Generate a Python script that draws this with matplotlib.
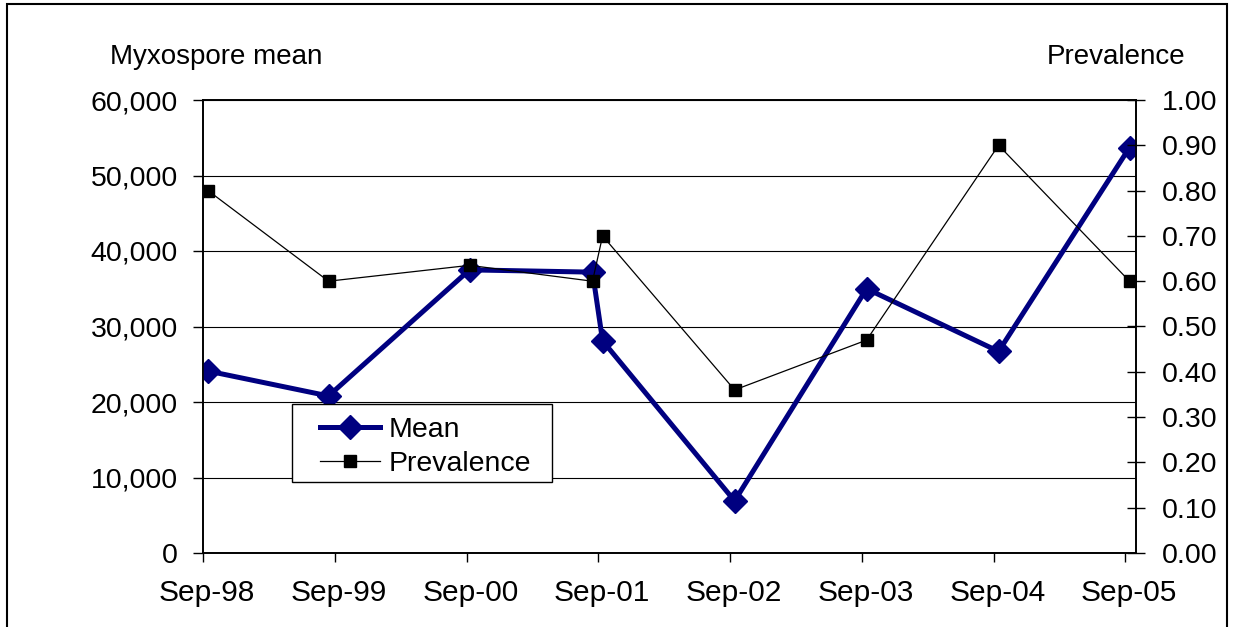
import matplotlib
matplotlib.use("Agg")
import matplotlib.pyplot as plt
import matplotlib.dates as mdates
import matplotlib.transforms as mtransforms
from matplotlib.patches import Rectangle
from matplotlib.ticker import FuncFormatter, MultipleLocator
from datetime import datetime

plt.rcParams['font.family'] = ['Liberation Sans', 'DejaVu Sans']

# sampling dates and values
dates = ['1998-09-15', '1999-08-15', '2000-09-09', '2001-08-16', '2001-09-13',
         '2002-09-14', '2003-09-15', '2004-09-15', '2005-09-13']
mean = [24100, 20800, 37500, 37200, 28100, 6900, 35000, 26700, 53700]
prevalence = [0.80, 0.60, 0.635, 0.60, 0.70, 0.36, 0.47, 0.90, 0.60]
tick_years = [1998, 1999, 2000, 2001, 2002, 2003, 2004, 2005]

x = [datetime.strptime(d, '%Y-%m-%d') for d in dates]

W, H = 1233, 627
fig = plt.figure(figsize=(W / 100, H / 100), dpi=100)
ax = fig.add_axes([203/W, 1 - 553/H, 933/W, 453/H])
ax2 = ax.twinx()

ax.set_xlim(datetime(1998, 9, 1), datetime(2005, 10, 1))
ax.set_ylim(0, 60000)
ax2.set_ylim(0, 1.0)

ax.yaxis.set_major_locator(MultipleLocator(10000))
ax.yaxis.set_major_formatter(FuncFormatter(lambda v, p: f'{int(v):,}'))
ax2.yaxis.set_major_locator(MultipleLocator(0.1))
ax2.yaxis.set_major_formatter(FuncFormatter(lambda v, p: f'{v:.2f}'))
ax.set_xticks([datetime(y, 9, 1) for y in tick_years])
ax.xaxis.set_major_formatter(mdates.DateFormatter('Sep-%y'))

ax.grid(axis='y', color='black', linewidth=0.8)
ax.set_axisbelow(True)

ax.tick_params(axis='y', direction='out', length=7, width=1, pad=11, labelsize=20.5)
ax.tick_params(axis='x', direction='out', length=6.5, width=1, pad=12, labelsize=21.5)
ax2.tick_params(axis='y', direction='inout', length=13, width=1, pad=12, labelsize=20.5)

# month labels sit a little right of their ticks
shift = mtransforms.ScaledTranslation(4/100, 0, fig.dpi_scale_trans)
for lab in ax.get_xticklabels():
    lab.set_transform(lab.get_transform() + shift)

for a in (ax, ax2):
    for s in a.spines.values():
        s.set_color('black')
        s.set_linewidth(1.2)

mline, = ax.plot(x, mean, color='#000080', linewidth=3.6, marker='D',
                 markersize=12, label='Mean', zorder=3)
pline, = ax2.plot(x, prevalence, color='black', linewidth=0.9, marker='s',
                  markersize=8.5, label='Prevalence', zorder=4)

# legend box drawn separately so the inner padding can be wider on the left
ax2.add_patch(Rectangle((89/933, 71/453), 260/933, 78/453, transform=ax2.transAxes,
                        facecolor='white', edgecolor='black', linewidth=1, zorder=5))
leg = ax2.legend([mline, pline], ['Mean', 'Prevalence'], loc='lower left',
                 bbox_to_anchor=(117/933, 76/453), borderaxespad=0, borderpad=0,
                 fontsize=20.5, frameon=False, handlelength=2.1,
                 handletextpad=0.3, labelspacing=0.28)
leg.set_zorder(6)

fig.text(110/W, 1 - 57/H, 'Myxospore mean', fontsize=20, va='center', ha='left')
fig.text(1185/W, 1 - 57/H, 'Prevalence', fontsize=20, va='center', ha='right')

fig.patches.append(Rectangle((7/W, -0.1), 1220/W, 1.1 - 4/H,
                             transform=fig.transFigure, fill=False,
                             edgecolor='black', linewidth=1.5))

fig.savefig('out.png', dpi=100)
